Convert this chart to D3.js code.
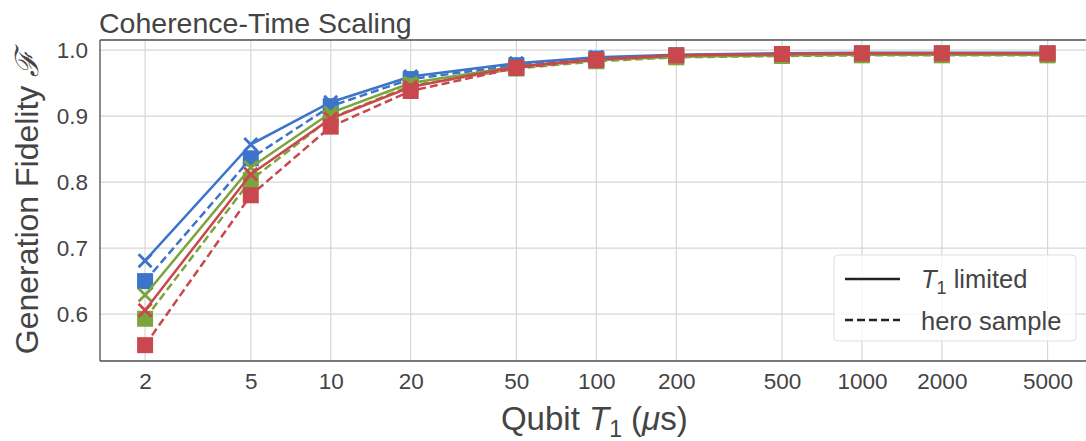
<!DOCTYPE html>
<html lang="en">
<head>
<meta charset="utf-8">
<title>Coherence-Time Scaling</title>
<script src="https://d3js.org/d3.v7.min.js"></script>
<style>
  body { margin: 0; background: #fff; }
  text { font-family: "Liberation Sans", Arial, sans-serif; fill: #444; }
  .tick text { font-size: 22.5px; }
  .grid line { stroke: #d6d6d6; stroke-width: 1.2px; }
</style>
</head>
<body>
<svg width="1086" height="441"></svg>
<script>
// qubit T1 values (us)
var t1Values = [2, 5, 10, 20, 50, 100, 200, 500, 1000, 2000, 5000];
var xTicks = [2, 5, 10, 20, 50, 100, 200, 500, 1000, 2000, 5000];
var yTicks = [0.6, 0.7, 0.8, 0.9, 1.0];

// T1 limited (solid, x markers) and hero sample (dashed, squares)
var blueLimited  = [0.681, 0.857, 0.921, 0.960, 0.980, 0.989, 0.993, 0.995, 0.996, 0.996, 0.996];
var blueHero     = [0.650, 0.836, 0.915, 0.956, 0.977, 0.987, 0.992, 0.994, 0.995, 0.995, 0.995];
var greenLimited = [0.629, 0.822, 0.905, 0.950, 0.975, 0.985, 0.990, 0.992, 0.993, 0.993, 0.993];
var greenHero    = [0.593, 0.803, 0.897, 0.946, 0.972, 0.983, 0.989, 0.991, 0.992, 0.992, 0.992];
var redLimited   = [0.606, 0.812, 0.896, 0.944, 0.975, 0.986, 0.992, 0.994, 0.995, 0.995, 0.995];
var redHero      = [0.553, 0.780, 0.884, 0.938, 0.973, 0.985, 0.992, 0.994, 0.995, 0.995, 0.995];

var series = [
  {values: blueLimited,  color: "#3b74c8", dashed: false},
  {values: blueHero,     color: "#3b74c8", dashed: true},
  {values: greenLimited, color: "#7ca43c", dashed: false},
  {values: greenHero,    color: "#7ca43c", dashed: true},
  {values: redLimited,   color: "#c8484e", dashed: false},
  {values: redHero,      color: "#c8484e", dashed: true}
];

var svg = d3.select("svg");
var margin = {top: 40, right: -6, bottom: 80, left: 100};
var width = 1086 - margin.left - margin.right;
var height = 441 - margin.top - margin.bottom;
var g = svg.append("g").attr("transform", `translate(${margin.left}, ${margin.top})`);

var xScale = d3.scaleLog().domain([1.353, 7350]).range([0, width]);
var yScale = d3.scaleLinear().domain([0.529, 1.0152]).range([height, 0]);

// grid
g.append("g").attr("class", "grid")
  .selectAll("line").data(xTicks).join("line")
  .attr("x1", d => xScale(d)).attr("x2", d => xScale(d))
  .attr("y1", 0).attr("y2", height);
g.append("g").attr("class", "grid")
  .selectAll("line").data(yTicks).join("line")
  .attr("x1", 0).attr("x2", width)
  .attr("y1", d => yScale(d)).attr("y2", d => yScale(d));

// axes
var xAxis = g.append("g")
  .attr("transform", `translate(0, ${height})`)
  .call(d3.axisBottom(xScale).tickValues(xTicks).tickFormat(d3.format("d")).tickSize(0).tickPadding(12));
var yAxis = g.append("g")
  .call(d3.axisLeft(yScale).tickValues(yTicks).tickFormat(d3.format(".1f")).tickSize(0).tickPadding(12));
xAxis.select(".domain").remove();
yAxis.select(".domain").remove();
svg.selectAll(".tick text").attr("fill", "#444");

// spines
g.append("line").attr("x1", 0).attr("x2", 0).attr("y1", 0).attr("y2", height)
  .attr("stroke", "#4d4d4d").attr("stroke-width", 1.3);
g.append("line").attr("x1", 0).attr("x2", width).attr("y1", height).attr("y2", height)
  .attr("stroke", "#4d4d4d").attr("stroke-width", 1.3);
g.append("line").attr("x1", 0).attr("x2", width).attr("y1", 0).attr("y2", 0)
  .attr("stroke", "#4d4d4d").attr("stroke-width", 1.3);

var line = d3.line()
  .x((d, i) => xScale(t1Values[i]))
  .y(d => yScale(d));

series.forEach(function(s) {
  g.append("path")
    .datum(s.values)
    .attr("fill", "none")
    .attr("stroke", s.color)
    .attr("stroke-width", 2.5)
    .attr("stroke-dasharray", s.dashed ? "8,4" : null)
    .attr("d", line);

  var m = g.append("g");
  if (s.dashed) {
    m.selectAll("rect").data(s.values).join("rect")
      .attr("x", (d, i) => xScale(t1Values[i]) - 8)
      .attr("y", d => yScale(d) - 8)
      .attr("width", 16).attr("height", 16)
      .attr("fill", s.color);
  } else {
    m.selectAll("path").data(s.values).join("path")
      .attr("transform", (d, i) => `translate(${xScale(t1Values[i])}, ${yScale(d)})`)
      .attr("d", "M-6.5,-6.5L6.5,6.5M-6.5,6.5L6.5,-6.5")
      .attr("stroke", s.color)
      .attr("stroke-width", 2.8)
      .attr("fill", "none");
  }
});

// legend
var lg = svg.append("g").attr("transform", "translate(834, 255)");
lg.append("rect").attr("width", 242).attr("height", 86).attr("rx", 4)
  .attr("fill", "#fff").attr("fill-opacity", 0.8).attr("stroke", "#e0e0e0");
lg.append("line").attr("x1", 11).attr("x2", 66).attr("y1", 24).attr("y2", 24)
  .attr("stroke", "#222").attr("stroke-width", 2.5);
lg.append("line").attr("x1", 11).attr("x2", 66).attr("y1", 65).attr("y2", 65)
  .attr("stroke", "#222").attr("stroke-width", 2.5).attr("stroke-dasharray", "8,4");
var t1 = lg.append("text").attr("x", 87).attr("y", 33).style("font-size", "25.5px");
t1.append("tspan").style("font-style", "italic").text("T");
t1.append("tspan").attr("dy", 6).style("font-size", "18px").text("1");
t1.append("tspan").attr("dy", -6).text(" limited");
lg.append("text").attr("x", 87).attr("y", 75).style("font-size", "25.5px").text("hero sample");

// title and labels
svg.append("text").attr("x", 99).attr("y", 33).style("font-size", "28.5px")
  .text("Coherence-Time Scaling");

var xl = svg.append("text").attr("x", 100 + xScale(100) - 2).attr("y", 430)
  .attr("text-anchor", "middle").style("font-size", "33px");
xl.append("tspan").text("Qubit ");
xl.append("tspan").style("font-style", "italic").text("T");
xl.append("tspan").attr("dy", 7).style("font-size", "23px").text("1");
xl.append("tspan").attr("dy", -7).text(" (");
xl.append("tspan").style("font-style", "italic").text("μ");
xl.append("tspan").text("s)");

var yl = svg.append("text")
  .attr("transform", `translate(38, ${42 + height / 2}) rotate(-90)`)
  .attr("text-anchor", "middle").style("font-size", "32px");
yl.append("tspan").text("Generation Fidelity ");
yl.append("tspan").style("font-style", "italic").text("ℱ");
</script>
</body>
</html>
